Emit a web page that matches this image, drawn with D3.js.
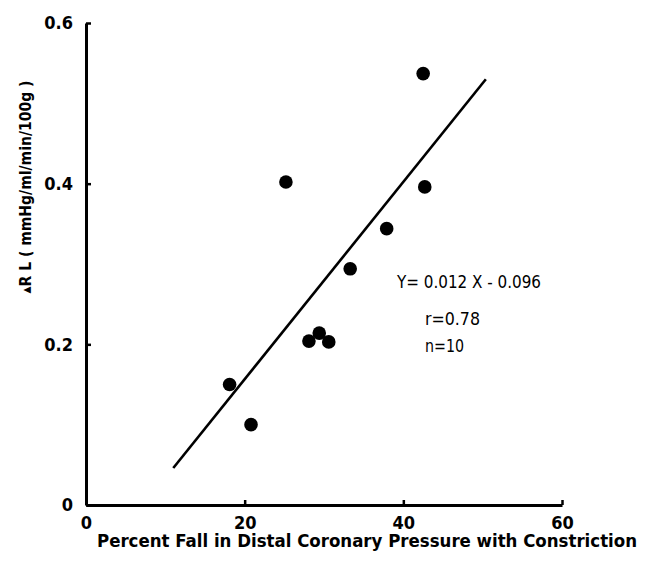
<!DOCTYPE html>
<html>
<head>
<meta charset="utf-8">
<script src="https://cdn.jsdelivr.net/npm/d3@7"></script>
<style>
  body { margin: 0; background: #fff; }
  text { font-family: "Liberation Sans Narrow", "DejaVu Sans Condensed", "Open Sans", sans-serif; font-stretch: condensed; fill: #000; }
</style>
</head>
<body>
<div id="chart"></div>
<script>
// Percent fall in distal coronary pressure vs change in resistance
const fallPct = [42.5, 25.2, 42.7, 37.9, 33.3, 29.4, 28.1, 30.6, 18.1, 20.8];
const deltaRL = [0.537, 0.402, 0.396, 0.344, 0.294, 0.214, 0.204, 0.203, 0.150, 0.100];

// regression line ends as drawn
const fitX = [11.0, 50.4];
const fitY = [0.046, 0.530];

const xTicks = [0, 20, 40, 60];
const yTicks = [0, 0.2, 0.4, 0.6];
const notes = ["Y= 0.012 X - 0.096", "r=0.78", "n=10"];
const noteWidths = [144, 55, 39];

const width = 645, height = 569;
const margin = { top: 23, right: 83, bottom: 64, left: 86 };
const w = width - margin.left - margin.right;
const h = height - margin.top - margin.bottom;

const svg = d3.select("#chart")
  .append("svg")
  .attr("width", width)
  .attr("height", height)
  .append("g")
  .attr("transform", `translate(${margin.left},${margin.top})`);

const x = d3.scaleLinear().domain([0, 60]).range([0, w]);
const y = d3.scaleLinear().domain([0, 0.6]).range([h, 0]);

const xAxis = svg.append("g")
  .attr("transform", `translate(0,${h})`)
  .call(d3.axisBottom(x)
    .tickValues(xTicks)
    .tickSizeInner(-5)
    .tickSizeOuter(0)
    .tickPadding(11)
    .tickFormat(d3.format("d")));

const yAxis = svg.append("g")
  .call(d3.axisLeft(y)
    .tickValues(yTicks)
    .tickSizeInner(-5)
    .tickSizeOuter(0)
    .tickPadding(13)
    .tickFormat(d => d === 0 ? "0" : d3.format(".1f")(d)));

[xAxis, yAxis].forEach(g => {
  g.select(".domain").attr("stroke", "#000").attr("stroke-width", 3);
  g.selectAll(".tick line").attr("stroke", "#000").attr("stroke-width", 2.5);
  g.selectAll(".tick text")
    .style("font-size", "18px")
    .style("font-weight", "bold");
});

// regression line
const line = d3.line()
  .x(d => x(d[0]))
  .y(d => y(d[1]));

svg.append("path")
  .datum(fitX.map((v, i) => [v, fitY[i]]))
  .attr("d", line)
  .attr("fill", "none")
  .attr("stroke", "#000")
  .attr("stroke-width", 2.6);

// data points
svg.selectAll("circle.pt")
  .data(fallPct.map((v, i) => ({ x: v, y: deltaRL[i] })))
  .enter()
  .append("circle")
  .attr("class", "pt")
  .attr("cx", d => x(d.x))
  .attr("cy", d => y(d.y))
  .attr("r", 6.8)
  .attr("fill", "#000");

// equation and stats
const noteX = [397, 425, 425];
const noteY = [288, 325, 352];
svg.selectAll("text.note")
  .data(notes)
  .enter()
  .append("text")
  .attr("class", "note")
  .attr("x", (d, i) => noteX[i] - margin.left)
  .attr("y", (d, i) => noteY[i] - margin.top)
  .attr("textLength", (d, i) => noteWidths[i])
  .attr("lengthAdjust", "spacingAndGlyphs")
  .style("font-size", "18px")
  .text(d => d);

// axis titles
svg.append("text")
  .attr("x", 97 - margin.left)
  .attr("y", 547 - margin.top)
  .attr("textLength", 540)
  .attr("lengthAdjust", "spacingAndGlyphs")
  .style("font-size", "17px")
  .style("font-weight", "bold")
  .text("Percent Fall in Distal Coronary Pressure with Constriction");

svg.append("text")
  .attr("transform", `translate(${31 - margin.left},${187 - margin.top}) rotate(-90)`)
  .attr("text-anchor", "middle")
  .attr("textLength", 213)
  .attr("lengthAdjust", "spacingAndGlyphs")
  .style("font-size", "15px")
  .style("font-weight", "bold")
  .text("\u25B4R L ( mmHg/ml/min/100g )");
</script>
</body>
</html>
